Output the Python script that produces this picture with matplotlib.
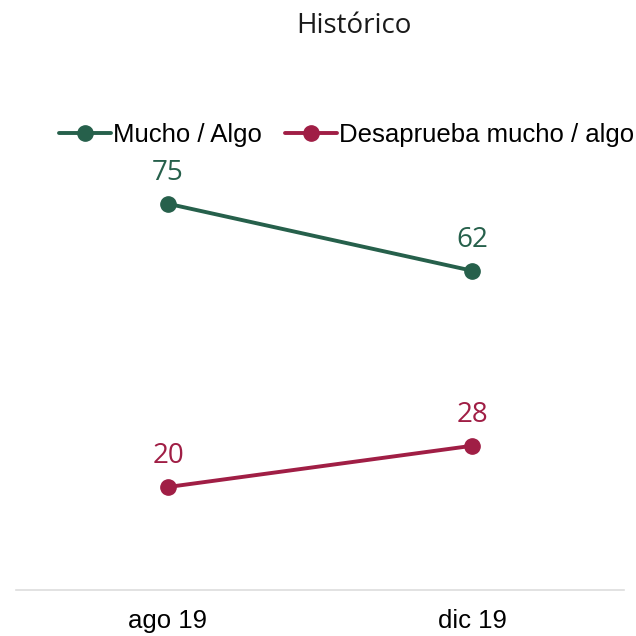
import matplotlib
matplotlib.use('agg')
import matplotlib.pyplot as plt

periods = ['ago 19', 'dic 19']
aprueba = [75, 62]
desaprueba = [20, 28]
series_names = ['Mucho / Algo', 'Desaprueba mucho / algo']

green = '#26604b'
red = '#a01e45'

fig = plt.figure(figsize=(6.36, 6.36), dpi=100)
ax = fig.add_axes([16 / 636, 1 - 590 / 636, 608 / 636, 515 / 636])

x = list(range(len(periods)))
for vals, col, name in [(aprueba, green, series_names[0]), (desaprueba, red, series_names[1])]:
    ax.plot(x, vals, color=col, lw=2.8, marker='o', ms=11, label=name, solid_capstyle='round')
    for xi, v in zip(x, vals):
        ax.annotate(str(v), (xi, v), xytext=(0, 12), textcoords='offset points',
                    ha='center', va='bottom', color=col, fontsize=20, family='Open Sans')

ax.set_xlim(-0.5, 1.5)
ax.set_ylim(0, 100)
ax.set_xticks(x)
ax.set_xticklabels(periods, family='Liberation Sans', fontsize=18.5)
ax.tick_params(axis='x', length=0, pad=14)
ax.set_yticks([])
for s in ['top', 'left', 'right']:
    ax.spines[s].set_visible(False)
ax.spines['bottom'].set_color('#dddddd')
ax.spines['bottom'].set_linewidth(1.2)

fig.text(354 / 636, 1 - 26 / 636, 'Histórico', ha='center', va='center', fontsize=20,
         family='Open Sans', color='#1a1a1a')

leg = fig.legend(loc='center', bbox_to_anchor=(347 / 636, 1 - 135 / 636), ncol=2, frameon=False,
                 prop={'family': 'Liberation Sans', 'size': 18.5}, handlelength=2.0,
                 handletextpad=0.1, columnspacing=0.9)

fig.savefig('out.png', dpi=100)
